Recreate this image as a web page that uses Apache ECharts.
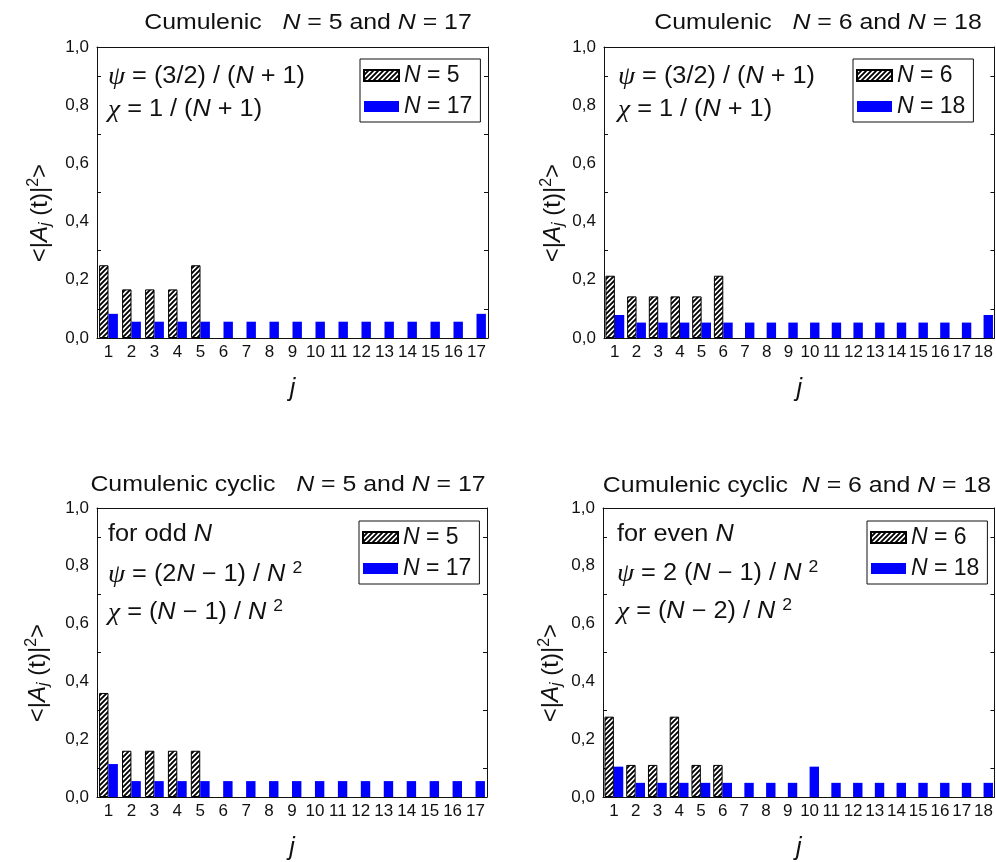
<!DOCTYPE html>
<html>
<head>
<meta charset="utf-8">
<script src="https://cdn.jsdelivr.net/npm/echarts@6/dist/echarts.min.js"></script>
<style>
html,body{margin:0;padding:0;background:#fff;}
#chart{width:996px;height:862px;}
</style>
</head>
<body>
<div id="chart"></div>
<script>
// ---- data ----
const cats17 = ['1','2','3','4','5','6','7','8','9','10','11','12','13','14','15','16','17'];
const cats18 = ['1','2','3','4','5','6','7','8','9','10','11','12','13','14','15','16','17','18'];

// Cumulenic, N = 5 and N = 17
const tlN5  = [0.25, 0.167, 0.167, 0.167, 0.25];
const tlN17 = [0.083, 0.056, 0.056, 0.056, 0.056, 0.056, 0.056, 0.056, 0.056, 0.056, 0.056, 0.056, 0.056, 0.056, 0.056, 0.056, 0.083];
// Cumulenic, N = 6 and N = 18
const trN6  = [0.214, 0.143, 0.143, 0.143, 0.143, 0.214];
const trN18 = [0.079, 0.053, 0.053, 0.053, 0.053, 0.053, 0.053, 0.053, 0.053, 0.053, 0.053, 0.053, 0.053, 0.053, 0.053, 0.053, 0.053, 0.079];
// Cumulenic cyclic, N = 5 and N = 17
const blN5  = [0.36, 0.16, 0.16, 0.16, 0.16];
const blN17 = [0.114, 0.055, 0.055, 0.055, 0.055, 0.055, 0.055, 0.055, 0.055, 0.055, 0.055, 0.055, 0.055, 0.055, 0.055, 0.055, 0.055];
// Cumulenic cyclic, N = 6 and N = 18
const brN6  = [0.278, 0.111, 0.111, 0.278, 0.111, 0.111];
const brN18 = [0.105, 0.049, 0.049, 0.049, 0.049, 0.049, 0.049, 0.049, 0.049, 0.105, 0.049, 0.049, 0.049, 0.049, 0.049, 0.049, 0.049, 0.049];

const yTicks = [0, 0.2, 0.4, 0.6, 0.8, 1.0];

// ---- styling / build ----
const FONT = '"Liberation Sans", Arial, sans-serif';
const SERIF = '"Liberation Serif", "DejaVu Serif", serif';
const INK = '#111';

function hatchCanvas() {
  const s = 5;
  const c = document.createElement('canvas');
  c.width = s; c.height = s;
  const g = c.getContext('2d');
  g.fillStyle = '#fff'; g.fillRect(0, 0, s, s);
  g.strokeStyle = '#000'; g.lineWidth = 1.9;
  g.beginPath();
  g.moveTo(0, s); g.lineTo(s, 0);
  g.moveTo(-s, s); g.lineTo(s, -s);
  g.moveTo(0, 2 * s); g.lineTo(2 * s, 0);
  g.stroke();
  return c;
}
const HATCH = { image: hatchCanvas(), repeat: 'repeat' };

const panels = [
  { cats: cats17, a: tlN5, b: tlN17, grid: {left: 97, top: 47, width: 391, height: 291},
    la: 'N5a', lb: 'N17a', ta: '5', tb: '17', legend: {left: 360, top: 59} },
  { cats: cats18, a: trN6, b: trN18, grid: {left: 604, top: 47, width: 391, height: 291},
    la: 'N6b', lb: 'N18b', ta: '6', tb: '18', legend: {left: 853, top: 59} },
  { cats: cats17, a: blN5, b: blN17, grid: {left: 97, top: 508, width: 390, height: 291},
    la: 'N5c', lb: 'N17c', ta: '5', tb: '17', legend: {left: 359, top: 521} },
  { cats: cats18, a: brN6, b: brN18, grid: {left: 603, top: 508, width: 392, height: 291},
    la: 'N6d', lb: 'N18d', ta: '6', tb: '18', legend: {left: 867, top: 521} }
];

const legendText = {};
panels.forEach(p => { legendText[p.la] = '{i|N} = ' + p.ta; legendText[p.lb] = '{i|N} = ' + p.tb; });

const axisLine = { show: true, onZero: false, lineStyle: { color: INK, width: 1 } };
const grids = [], xAxes = [], yAxes = [], series = [], legends = [];

panels.forEach((p, gi) => {
  grids.push(Object.assign({ containLabel: false }, p.grid));
  xAxes.push({
    gridIndex: gi, type: 'category', data: p.cats, position: 'bottom',
    axisLine, axisTick: { inside: true, alignWithLabel: true, length: 5, lineStyle: { color: INK } },
    axisLabel: { interval: 0, fontSize: 17, color: INK, margin: 6, fontFamily: FONT },
    name: 'j', nameLocation: 'middle', nameGap: 39,
    nameTextStyle: { fontStyle: 'italic', fontSize: 25, color: INK, fontFamily: FONT }
  });
  xAxes.push({
    gridIndex: gi, type: 'category', data: p.cats, position: 'top',
    axisLine, axisTick: { inside: true, alignWithLabel: true, length: 5, lineStyle: { color: INK } },
    axisLabel: { show: false }
  });
  const yBase = {
    gridIndex: gi, type: 'value', min: yTicks[0], max: yTicks[yTicks.length - 1], interval: 0.2,
    axisLine, splitLine: { show: false },
    axisTick: { inside: true, length: 6, lineStyle: { color: INK } },
    minorTick: { show: true, splitNumber: 2, length: 4, lineStyle: { color: INK } }
  };
  yAxes.push(Object.assign({}, yBase, {
    position: 'left',
    axisLabel: { fontSize: 17, color: INK, margin: 8, fontFamily: FONT,
      formatter: v => v.toFixed(1).replace('.', ',') }
  }));
  yAxes.push(Object.assign({}, yBase, { position: 'right', axisLabel: { show: false } }));

  const padA = p.cats.map((c, i) => (i < p.a.length ? p.a[i] : null));
  series.push({
    type: 'bar', name: p.la, xAxisIndex: gi * 2, yAxisIndex: gi * 2,
    data: padA, barWidth: 9.4, barGap: '0%',
    itemStyle: { color: HATCH, borderColor: '#000', borderWidth: 1 },
    emphasis: { disabled: true }
  });
  series.push({
    type: 'bar', name: p.lb, xAxisIndex: gi * 2, yAxisIndex: gi * 2,
    data: p.b, barWidth: 9.4, barGap: '0%',
    itemStyle: { color: '#0000ff' },
    emphasis: { disabled: true }
  });
  legends.push({
    left: p.legend.left, top: p.legend.top, orient: 'vertical',
    data: [p.la, p.lb], icon: 'rect', itemWidth: 35, itemHeight: 11, itemGap: 8,
    padding: [5, 8, 4, 3], borderColor: INK, borderWidth: 1,
    selectedMode: false,
    formatter: n => legendText[n],
    textStyle: { fontSize: 23, color: INK, fontFamily: FONT,
      rich: { i: { fontStyle: 'italic', fontSize: 23, color: INK, fontFamily: FONT } } }
  });
});

function richFor(size) {
  return {
    i: { fontStyle: 'italic', fontSize: size, fill: INK, fontFamily: FONT },
    g: { fontStyle: 'italic', fontSize: size + 2, fill: INK, fontFamily: SERIF },
    sup: { fontSize: Math.round(size * 0.68), fill: INK, fontFamily: FONT, padding: [0, 0, Math.round(size * 0.55), 0] },
    sub: { fontStyle: 'italic', fontSize: Math.round(size * 0.68), fill: INK, fontFamily: FONT, padding: [Math.round(size * 0.45), 0, 0, 0] }
  };
}
function txt(text, x, y, opts) {
  opts = opts || {};
  const size = opts.size || 22;
  return {
    type: 'text', x: x, y: y, rotation: opts.rotation || 0, scaleX: opts.sx || 1, silent: true,
    style: {
      text: text, fill: INK, fontSize: size, fontFamily: FONT,
      textAlign: opts.align || 'left', textVerticalAlign: 'middle',
      rich: richFor(size)
    }
  };
}
const T = { align: 'center', size: 22, sx: 1.13 };
const A = { size: 23, sx: 1.1 };
const Y = { align: 'center', rotation: Math.PI / 2, size: 24 };
const graphics = [
  txt('Cumulenic   {i|N} = 5 and {i|N} = 17', 308, 23, T),
  txt('Cumulenic   {i|N} = 6 and {i|N} = 18', 818, 23, T),
  txt('Cumulenic cyclic   {i|N} = 5 and {i|N} = 17', 288, 485, T),
  txt('Cumulenic cyclic  {i|N} = 6 and {i|N} = 18', 797, 486, T),

  txt('{g|ψ} = (3/2) / ({i|N} + 1)', 108, 77, A),
  txt('{g|χ} = 1 / ({i|N} + 1)', 108, 110, A),
  txt('{g|ψ} = (3/2) / ({i|N} + 1)', 618, 77, A),
  txt('{g|χ} = 1 / ({i|N} + 1)', 618, 110, A),

  txt('for odd {i|N}', 108, 535, A),
  txt('{g|ψ} = (2{i|N} − 1) / {i|N} {sup|2}', 108, 575, A),
  txt('{g|χ} = ({i|N} − 1) / {i|N} {sup|2}', 108, 613, A),
  txt('for even {i|N}', 617, 535, A),
  txt('{g|ψ} = 2 ({i|N} − 1) / {i|N} {sup|2}', 617, 574, A),
  txt('{g|χ} = ({i|N} − 2) / {i|N} {sup|2}', 617, 612, A),

  txt('<|{i|A}{sub|j} (t)|{sup|2}>', 40, 213, Y),
  txt('<|{i|A}{sub|j} (t)|{sup|2}>', 553, 213, Y),
  txt('<|{i|A}{sub|j} (t)|{sup|2}>', 38, 673, Y),
  txt('<|{i|A}{sub|j} (t)|{sup|2}>', 551, 673, Y)
];

const chart = echarts.init(document.getElementById('chart'), null, { renderer: 'canvas' });
chart.setOption({
  animation: false,
  backgroundColor: '#fff',
  grid: grids, xAxis: xAxes, yAxis: yAxes, series: series, legend: legends,
  graphic: graphics
});
</script>
</body>
</html>
